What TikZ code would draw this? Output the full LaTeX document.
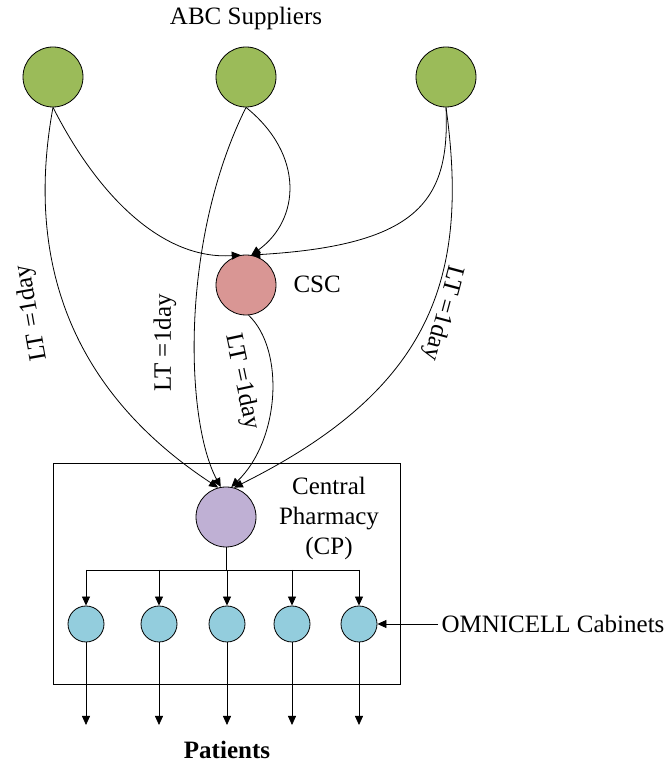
\documentclass[tikz,border=0pt]{standalone}
\usepackage{fontspec}
\setmainfont{Liberation Serif}
\usetikzlibrary{arrows.meta}
\begin{document}
\begin{tikzpicture}[x=1pt,y=1pt,
  every node/.style={font=\fontsize{25}{30}\selectfont},
  line/.style={line width=0.8pt},
  arr/.style={line width=0.8pt,-{Triangle[length=9pt,width=8pt]}},
  supplier/.style={circle,draw,line width=0.8pt,fill=green!60!black!40!yellow,minimum size=60pt,inner sep=0pt},
  cabinet/.style={circle,draw,line width=0.8pt,fill=cabcol,minimum size=36pt,inner sep=0pt},
  ltlabel/.style={inner sep=0pt}
]
\definecolor{supcol}{HTML}{9BBB59}
\definecolor{csccol}{HTML}{D99694}
\definecolor{cpcol}{HTML}{BFB0D4}
\definecolor{cabcol}{HTML}{93CDDD}
\tikzset{supplier/.append style={fill=supcol}}
\useasboundingbox (0,0) rectangle (671,763);

% suppliers and title
\node (title) at (246,745) {ABC Suppliers};
\node[supplier] (s1) at (53,686) {};
\node[supplier] (s2) at (246,686) {};
\node[supplier] (s3) at (446,686) {};

% consolidated supply centre
\node[circle,draw,line width=0.8pt,fill=csccol,minimum size=60pt,inner sep=0pt] (csc) at (246,478) {};
\node[anchor=west] (csclbl) at (290,479) {CSC};

% central pharmacy box
\node[draw,line width=0.8pt,minimum width=347pt,minimum height=221pt,inner sep=0pt] (box) at (226.5,189.5) {};
\node[circle,draw,line width=0.8pt,fill=cpcol,minimum size=60pt,inner sep=0pt] (cp) at (226,246) {};
\node[align=center,font=\fontsize{25}{30}\selectfont] (cplbl) at (329,245) {Central\\Pharmacy\\(CP)};

% supplier flows into CSC
\draw[arr] (s1.south) .. controls (100,563) and (165,503) .. (csc.100);
\draw[arr] (s2.south) .. controls (305,608) and (300,543) .. (csc.80);
\draw[arr] (s3.south) .. controls (450,563) and (420,518) .. (csc.80);

% flows into the central pharmacy
\draw[arr] (s1.south) .. controls (25,503) and (70,373) .. (cp.105);
\draw[arr] (s2.south) .. controls (180,523) and (185,343) .. (cp.100);
\draw[arr] (csc.-85) .. controls (285,413) and (280,323) .. (cp.80);
\draw[arr] (s3.south) .. controls (470,483) and (430,373) .. (cp.75);

% lead time labels
\node[ltlabel,rotate=100] (lt1) at (32,450) {LT =1day};
\node[ltlabel,rotate=90] (lt2) at (165,420) {LT =1day};
\node[ltlabel,rotate=-78] (lt3) at (242,381) {LT =1day};
\node[ltlabel,rotate=-105] (lt4) at (443,450) {LT =1day};

% cabinets
\node[cabinet] (c1) at (86,139) {};
\node[cabinet] (c2) at (159,139) {};
\node[cabinet] (c3) at (227,139) {};
\node[cabinet] (c4) at (292,139) {};
\node[cabinet] (c5) at (359,139) {};

% distribution bar
\coordinate (bar) at (226,193);
\draw[line] (cp.south) -- (bar);
\draw[line] (c1 |- bar) -- (c5 |- bar);
\foreach \c in {c1,c2,c3,c4,c5} {
  \draw[arr] (\c |- bar) -- (\c.north);
}

% to patients
\coordinate (pt) at (0,38);
\foreach \c in {c1,c2,c3,c4,c5} {
  \draw[arr] (\c.south) -- (\c |- pt);
}
\node[font=\fontsize{25}{30}\selectfont\bfseries] (patients) at (227,13) {Patients};

% cabinet callout
\node[anchor=west] (omni) at (438,139) {OMNICELL Cabinets};
\draw[arr] (omni.west) -- (c5.east);
\end{tikzpicture}
\end{document}
